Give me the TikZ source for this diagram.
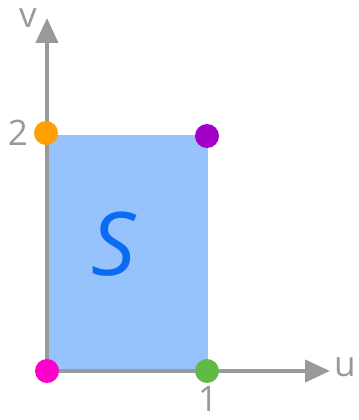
\documentclass[tikz,border=0pt]{standalone}
\usepackage{fontspec}
\setmainfont{Open Sans}
\usetikzlibrary{arrows.meta}
\definecolor{axisgray}{HTML}{999999}
\definecolor{regionblue}{HTML}{96C3FC}
\definecolor{letterblue}{HTML}{0A6CF5}
\definecolor{dotpink}{HTML}{FF00CC}
\definecolor{dotgreen}{HTML}{60BB46}
\definecolor{dotorange}{HTML}{FF9F00}
\definecolor{dotpurple}{HTML}{A100C8}
\begin{document}
\begin{tikzpicture}[
      x=0.02cm, y=0.02cm,
      axis/.style={draw=axisgray, line width=2.3pt, -{Triangle[length=0.5cm, width=0.44cm]}},
      region/.style={fill=regionblue, draw=none},
      dot/.style={circle, inner sep=0pt, minimum size=0.48cm},
      lbl/.style={text=axisgray, inner sep=1pt, font=\fontsize{20}{22}\selectfont},
      setname/.style={text=letterblue, font=\itshape\fontsize{50}{54}\selectfont}
  ]
    \useasboundingbox (0,0) rectangle (359,420);
    \coordinate (origin) at (47,49);
    \coordinate (uend) at (330,49);
    \coordinate (vend) at (47,402);

    \fill[region] (47,49) rectangle (208,285);
    \draw[axis] (origin) -- (uend);
    \draw[axis] (origin) -- (vend);

    \node[dot, fill=dotpink] (pzero) at (47,49) {};
    \node[dot, fill=dotgreen] (pone) at (207,49) {};
    \node[dot, fill=dotorange] (ptwo) at (46,287) {};
    \node[dot, fill=dotpurple] (pcorner) at (207,284) {};

    \node[lbl] (ulabel) at (345,53) {u};
    \node[lbl] (vlabel) at (28,402) {v};
    \node[lbl] (twolabel) at (18,287) {2};
    \node[lbl] (onelabel) at (208,21) {1};
    \node[setname] (sname) at (114,176) {S};
  \end{tikzpicture}
\end{document}
